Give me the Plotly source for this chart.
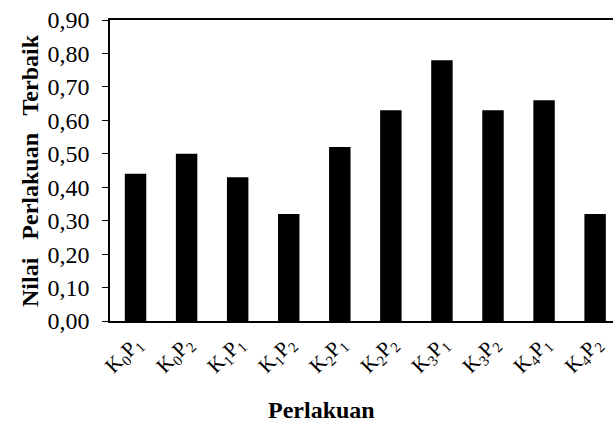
import plotly.graph_objects as go

categories = ["K<sub>0</sub>P<sub>1</sub>", "K<sub>0</sub>P<sub>2</sub>", "K<sub>1</sub>P<sub>1</sub>",
              "K<sub>1</sub>P<sub>2</sub>", "K<sub>2</sub>P<sub>1</sub>", "K<sub>2</sub>P<sub>2</sub>",
              "K<sub>3</sub>P<sub>1</sub>", "K<sub>3</sub>P<sub>2</sub>", "K<sub>4</sub>P<sub>1</sub>",
              "K<sub>4</sub>P<sub>2</sub>"]
values = [0.44, 0.50, 0.43, 0.32, 0.52, 0.63, 0.78, 0.63, 0.66, 0.32]
x_title = "Perlakuan"
y_title = "Nilai   Perlakuan   Terbaik"

serif = "Liberation Serif, Times New Roman, serif"

fig = go.Figure(go.Bar(x=list(range(len(categories))), y=values, marker_color="black",
                       marker_line_width=0, width=0.42))

fig.update_layout(
    width=613, height=430,
    margin=dict(l=110, r=0, t=20, b=109, autoexpand=False),
    paper_bgcolor="white", plot_bgcolor="white",
    separators=",.",
    showlegend=False,
    font=dict(family=serif, color="black"),
    annotations=[
        dict(text=f"<b>{x_title}</b>", xref="paper", yref="paper", x=0.42, y=-0.295,
             xanchor="center", yanchor="middle", showarrow=False,
             font=dict(size=24, family=serif, color="black")),
        dict(text=f"<b>{y_title}</b>", xref="paper", yref="paper", x=-0.16, y=0.5,
             xanchor="center", yanchor="middle", showarrow=False, textangle=-90,
             font=dict(size=24, family=serif, color="black")),
    ],
)
fig.update_xaxes(
    tickmode="array", tickvals=list(range(len(categories))), ticktext=categories,
    range=[-0.5, 9.35], tickangle=-45, tickfont=dict(size=21, family=serif),
    ticklabeloverflow="allow",
    showline=True, linecolor="black", linewidth=1.5, mirror=True, ticks="",
    showgrid=False, zeroline=False, automargin=False,
)
fig.update_yaxes(
    range=[0, 0.9], dtick=0.1, tickformat=".2f",
    tickfont=dict(size=24, family=serif), ticklabelstandoff=8,
    showline=True, linecolor="black", linewidth=1.5, ticks="outside", ticklen=6,
    tickcolor="black", showgrid=False, zeroline=False, automargin=False,
)

fig.write_html("out.html", config={"displayModeBar": False},
               post_script="document.body.style.margin='0';document.body.style.overflow='hidden';"
                           "document.documentElement.style.overflow='hidden';")
